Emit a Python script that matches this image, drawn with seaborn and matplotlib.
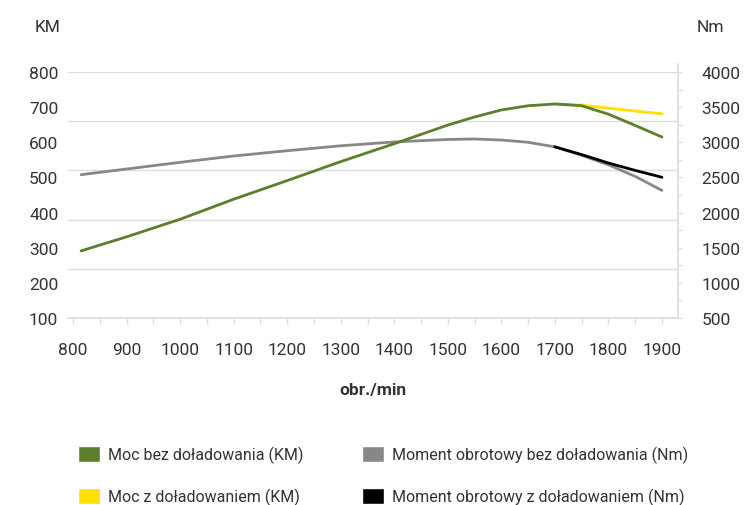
import numpy as np
import pandas as pd
import matplotlib
matplotlib.use("Agg")
import matplotlib.pyplot as plt
from matplotlib.patches import Patch
from matplotlib.ticker import MultipleLocator
import seaborn as sns

# ---- data ----
rpm = [815, 900, 1000, 1100, 1200, 1300, 1400, 1500, 1550, 1600, 1650, 1700, 1750, 1800, 1850, 1900]
moc_bez = [291, 331, 381, 438, 491, 545, 596, 649, 672, 692, 704, 709, 704, 680, 648, 615]
moc_z = [None] * 11 + [709, 706, 697, 689, 681]
moment_bez = [2539, 2620, 2715, 2805, 2880, 2950, 3005, 3040, 3047, 3032, 3000, 2935, 2815, 2680, 2515, 2315]
moment_z = [None] * 11 + [2935, 2825, 2705, 2600, 2502]

km_ticks = [100, 200, 300, 400, 500, 600, 700, 800]
nm_ticks = [500, 1000, 1500, 2000, 2500, 3000, 3500, 4000]
rpm_ticks = [800, 900, 1000, 1100, 1200, 1300, 1400, 1500, 1600, 1700, 1800, 1900]

labels = ["Moc bez doładowania (KM)", "Moc z doładowaniem (KM)",
          "Moment obrotowy bez doładowania (Nm)", "Moment obrotowy z doładowaniem (Nm)"]
colors = ["#5b7f2b", "#ffe000", "#878787", "#000000"]

df = pd.DataFrame({"rpm": rpm, "moc_bez": moc_bez, "moc_z": moc_z,
                   "moment_bez": moment_bez, "moment_z": moment_z}).astype(float)

sns.set_theme(style="white")
plt.rcParams["font.family"] = ["Roboto", "DejaVu Sans"]
txt = "#333333"
grid_c = "#dddddd"

fig = plt.figure(figsize=(7.45, 5.06), dpi=100)
ax = fig.add_axes([68 / 745, 1 - 319 / 506, (678 - 68) / 745, (319 - 73) / 506])
ax2 = ax.twinx()

# right axis lines (torque)
sns.lineplot(data=df, x="rpm", y="moment_bez", ax=ax2, color=colors[2], lw=2.0)
sns.lineplot(data=df.dropna(subset=["moment_z"]), x="rpm", y="moment_z", ax=ax2, color=colors[3], lw=2.0)
# left axis lines (power)
sns.lineplot(data=df.dropna(subset=["moc_z"]), x="rpm", y="moc_z", ax=ax, color=colors[1], lw=2.0)
sns.lineplot(data=df, x="rpm", y="moc_bez", ax=ax, color=colors[0], lw=2.0)

ax.set_zorder(ax2.get_zorder() + 1)
ax.patch.set_visible(False)

ax.set_xlim(790.5, 1930)
ax.set_ylim(100, 800)
ax2.set_ylim(500, 4000)

for v in np.linspace(100, 800, 6):
    ax2.axhline(500 + (v - 100) * 5, color=grid_c, lw=1.0, zorder=0)

ax.set_yticks(km_ticks)
ax.set_yticklabels([str(t) for t in km_ticks])
ax.tick_params(axis="y", length=0, pad=7, labelsize=12.5, labelcolor=txt)
ax.set_xticks(rpm_ticks)
ax.set_xticklabels([str(t) for t in rpm_ticks])
ax.xaxis.set_minor_locator(MultipleLocator(50))
ax.tick_params(axis="x", which="both", length=4, width=1, color=grid_c, direction="out",
               pad=13, labelsize=12.5, labelcolor=txt, bottom=True)
ax.tick_params(axis="x", which="minor", labelbottom=False)

ax2.set_yticks(nm_ticks)
ax2.set_yticklabels([str(t) for t in nm_ticks])
ax2.yaxis.set_minor_locator(MultipleLocator(250))
ax2.tick_params(axis="y", which="both", length=3, width=1, color=grid_c, direction="out",
                pad=14, labelsize=12.5, labelcolor=txt, right=True)

for a in (ax, ax2):
    for s in ["top", "left"]:
        a.spines[s].set_visible(False)
    a.set_xlabel("")
    a.set_ylabel("")
ax.spines["right"].set_visible(False)
ax2.spines["right"].set_color(grid_c)
ax2.spines["right"].set_bounds(500, 4110)
ax2.spines["bottom"].set_visible(False)
ax.spines["bottom"].set_color(grid_c)

ax.set_xlabel("obr./min", fontsize=12.5, fontweight="bold", color=txt, labelpad=18)

fig.text(35 / 745, 1 - 27 / 506, "KM", fontsize=12.5, color=txt, ha="left", va="center")
fig.text(697 / 745, 1 - 27 / 506, "Nm", fontsize=12.5, color=txt, ha="left", va="center")

handles = [Patch(facecolor=colors[0]), Patch(facecolor=colors[1]),
           Patch(facecolor=colors[2]), Patch(facecolor=colors[3])]
fig.legend(handles, [labels[0], labels[1], labels[2], labels[3]], ncol=2,
           loc="upper left", bbox_to_anchor=(70 / 745, 1 - 439 / 506), frameon=False,
           fontsize=11.5, labelcolor=txt, handlelength=1.4, handleheight=1.1,
           handletextpad=0.45, columnspacing=3.7, labelspacing=1.55, borderpad=0)

fig.savefig("out.png", dpi=100)
